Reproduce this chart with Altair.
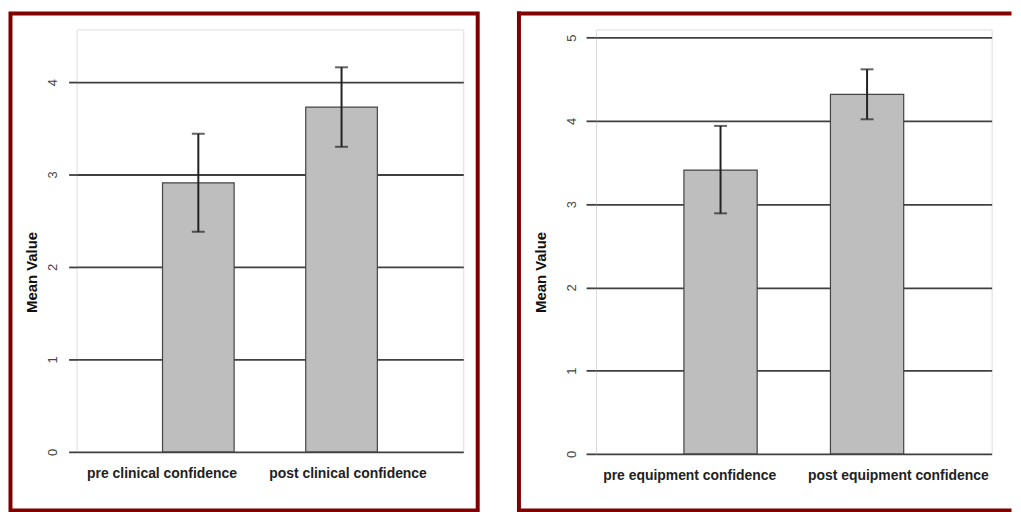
import altair as alt
import pandas as pd

# ---- data ----
left_cats = ["pre clinical confidence", "post clinical confidence"]
left_means = [2.91, 3.73]
left_lo = [2.38, 3.30]
left_hi = [3.44, 4.16]
left_ticks = [0, 1, 2, 3, 4]
left_ymax = 4.57

right_cats = ["pre equipment confidence", "post equipment confidence"]
right_means = [3.41, 4.32]
right_lo = [2.89, 4.02]
right_hi = [3.94, 4.62]
right_ticks = [0, 1, 2, 3, 4, 5]
right_ymax = 5.10

FRAME = "#800000"
FONT = "Liberation Sans"


def panel(cats, means, lo, hi, ticks, ymax, W, H, tick_size, lab_pad,
          title_x, title_y, offs, frame_layers):
    df = pd.DataFrame({"cat": cats, "mean": means, "lo": lo, "hi": hi})
    cond_off = {"condition": {"test": "datum.value == '%s'" % cats[0], "value": offs[0]},
                "value": offs[1]}
    xaxis = alt.Axis(title=None, labelAngle=0, ticks=False, tickSize=0, domain=False,
                     labelPadding=15, labelFontSize=14, labelFontWeight="bold",
                     labelColor="#222", labelFont=FONT, labelBaseline="top",
                     labelLimit=0, labelOffset=cond_off)
    x = alt.X("cat:N", sort=cats, axis=xaxis,
              scale=alt.Scale(paddingInner=0.5, paddingOuter=0.6))
    yaxis = alt.Axis(values=ticks, grid=True, gridColor="#404040", gridWidth=1.8,
                     domain=False, tickSize=tick_size, tickColor="#404040", tickWidth=1.8,
                     labelAngle=-90, labelAlign="center", labelBaseline="middle",
                     labelPadding=lab_pad, labelFontSize=13, labelColor="#444",
                     labelFont=FONT,
                     title="Mean Value", titleFontSize=15, titleFontWeight="bold",
                     titleColor="#111", titleFont=FONT, titleAngle=-90,
                     titleAlign="center", titleBaseline="middle",
                     titleX=title_x, titleY=title_y)
    yscale = alt.Scale(domain=[0, ymax], nice=False, zero=True)
    base = alt.Chart(df)
    bars = base.mark_bar(fill="#bebebe", stroke="#444", strokeWidth=1.2).encode(
        x=x, y=alt.Y("mean:Q", scale=yscale, axis=yaxis))
    err = base.mark_rule(color="#222", strokeWidth=2).encode(
        x=x, y=alt.Y("lo:Q", scale=yscale, axis=yaxis), y2="hi:Q")
    cap_lo = base.mark_tick(color="#222", size=13, thickness=2).encode(
        x=x, y=alt.Y("lo:Q", scale=yscale, axis=yaxis))
    cap_hi = base.mark_tick(color="#222", size=13, thickness=2).encode(
        x=x, y=alt.Y("hi:Q", scale=yscale, axis=yaxis))
    return alt.layer(bars, err, cap_lo, cap_hi, *frame_layers).properties(width=W, height=H)


one = alt.Data(values=[{"k": 1}])

left_frame = [alt.Chart(one).mark_rect(filled=False, stroke=FRAME, strokeWidth=4).encode(
    x=alt.value(-66.5), x2=alt.value(403.5), y=alt.value(-16), y2=alt.value(484))]

rf = dict(stroke=FRAME, strokeWidth=4, strokeCap="square")
right_frame = [
    alt.Chart(one).mark_rule(**rf).encode(x=alt.value(-77.5), y=alt.value(-16), y2=alt.value(484)),
    alt.Chart(one).mark_rule(**rf).encode(x=alt.value(-77.5), x2=alt.value(416), y=alt.value(-16)),
    alt.Chart(one).mark_rule(**rf).encode(x=alt.value(-77.5), x2=alt.value(416), y=alt.value(484)),
]

left = panel(left_cats, left_means, left_lo, left_hi, left_ticks, left_ymax,
             389, 425, 8, 16, -45, 244, (-36.5, 6.5), left_frame)
right = panel(right_cats, right_means, right_lo, right_hi, right_ticks, right_ymax,
              398, 427, 10, 15, -55.5, 244, (-31, 31.5), right_frame)

chart = alt.hconcat(left, right, spacing=35.5).properties(padding=0).configure_view(
    stroke="#808080", strokeWidth=1.5).configure(background="white")

chart.save("out.html", embed_options={"renderer": "svg", "actions": False})
